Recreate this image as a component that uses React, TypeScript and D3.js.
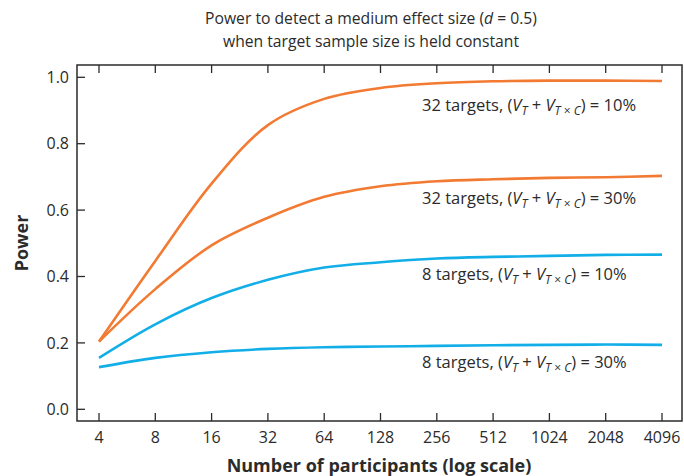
import * as d3 from 'd3';
import React from 'react';

// participants (log2 scale)
const participants = [4, 8, 16, 32, 64, 128, 256, 512, 1024, 2048, 4096];
const xTickLabels = ['4', '8', '16', '32', '64', '128', '256', '512', '1024', '2048', '4096'];
const yTicks = [0, 0.2, 0.4, 0.6, 0.8, 1.0];

// power values
const t32v10 = [0.204, 0.447, 0.68, 0.856, 0.935, 0.968, 0.982, 0.988, 0.99, 0.99, 0.989];
const t32v30 = [0.204, 0.362, 0.494, 0.577, 0.64, 0.672, 0.687, 0.693, 0.697, 0.699, 0.703];
const t8v10 = [0.155, 0.256, 0.335, 0.39, 0.427, 0.443, 0.454, 0.459, 0.462, 0.465, 0.466];
const t8v30 = [0.127, 0.155, 0.172, 0.182, 0.187, 0.189, 0.191, 0.193, 0.194, 0.195, 0.194];

const targets = ['32', '32', '8', '8'];
const pcts = ['10%', '30%', '10%', '30%'];

const ORANGE = '#f27a32';
const BLUE = '#12aee8';
const INK = '#2b2b2b';
const FONT = '"Open Sans", sans-serif';

const App = () => {
  const width = 684;
  const height = 476;
  const box = { left: 77, top: 65, right: 682, bottom: 421 };

  const x = d3.scaleLog().base(2).domain([4, 4096]).range([99, 662]);
  const y = d3.scaleLinear().domain([0, 1]).range([409.3, 77.3]);

  const line = d3.line<number>()
    .x((d, i) => x(participants[i]))
    .y((d) => y(d))
    .curve(d3.curveCatmullRom.alpha(0.5));

  const series = [
    { values: t32v10, color: ORANGE, labelY: 111 },
    { values: t32v30, color: ORANGE, labelY: 204 },
    { values: t8v10, color: BLUE, labelY: 280 },
    { values: t8v30, color: BLUE, labelY: 368 },
  ];

  return (
    <svg width={width} height={height} style={{ position: 'absolute', left: 0, top: 0, background: '#fff' }}>
      <g fontFamily={FONT} fill={INK}>
        <text x={371} y={24} textAnchor="middle" fontSize={15.7}>
          Power to detect a medium effect size (<tspan fontStyle="italic">d</tspan> = 0.5)
        </text>
        <text x={371} y={47} textAnchor="middle" fontSize={15.7}>
          when target sample size is held constant
        </text>
      </g>

      {/* frame */}
      <path
        d={`M${box.left},${box.top}H${box.right}V${box.bottom}H${box.left}Z`}
        fill="none"
        stroke={INK}
        strokeWidth={1.5}
      />

      {/* y ticks */}
      {yTicks.map((t) => (
        <g key={t}>
          <line x1={box.left} x2={box.left + 8} y1={y(t)} y2={y(t)} stroke={INK} strokeWidth={1.3} />
          <text x={box.left - 8} y={y(t)} dy="0.35em" textAnchor="end" fontFamily={FONT} fontSize={16} fill={INK}>
            {t.toFixed(1)}
          </text>
        </g>
      ))}

      {/* x ticks top and bottom */}
      {participants.map((p, i) => (
        <g key={p}>
          <line x1={x(p)} x2={x(p)} y1={box.bottom} y2={box.bottom - 8} stroke={INK} strokeWidth={1.3} />
          <line x1={x(p)} x2={x(p)} y1={box.top} y2={box.top + 8} stroke={INK} strokeWidth={1.3} />
          <text x={x(p)} y={443} textAnchor="middle" fontFamily={FONT} fontSize={16} fill={INK}>
            {xTickLabels[i]}
          </text>
        </g>
      ))}

      {series.map((s, i) => (
        <path key={i} d={line(s.values) || ''} fill="none" stroke={s.color} strokeWidth={2.6} />
      ))}

      {series.map((s, i) => (
        <text key={'l' + i} x={422} y={s.labelY} fontFamily={FONT} fontSize={16.5} fill={INK}>
          {targets[i]} targets, (<tspan fontStyle="italic">V</tspan>
          <tspan fontStyle="italic" fontSize={12} dy={4}>T</tspan>
          <tspan dy={-4}> + </tspan>
          <tspan fontStyle="italic">V</tspan>
          <tspan fontSize={12} dy={4}><tspan fontStyle="italic">T</tspan> × <tspan fontStyle="italic">C</tspan></tspan>
          <tspan dy={-4}>) = {pcts[i]}</tspan>
        </text>
      ))}

      <text
        transform={`translate(28,243) rotate(-90)`}
        textAnchor="middle"
        fontFamily={FONT}
        fontWeight="bold"
        fontSize={18}
        fill={INK}
      >
        Power
      </text>
      <text x={379} y={472} textAnchor="middle" fontFamily={FONT} fontWeight="bold" fontSize={18} fill={INK}>
        Number of participants (log scale)
      </text>
    </svg>
  );
};

export default App;
